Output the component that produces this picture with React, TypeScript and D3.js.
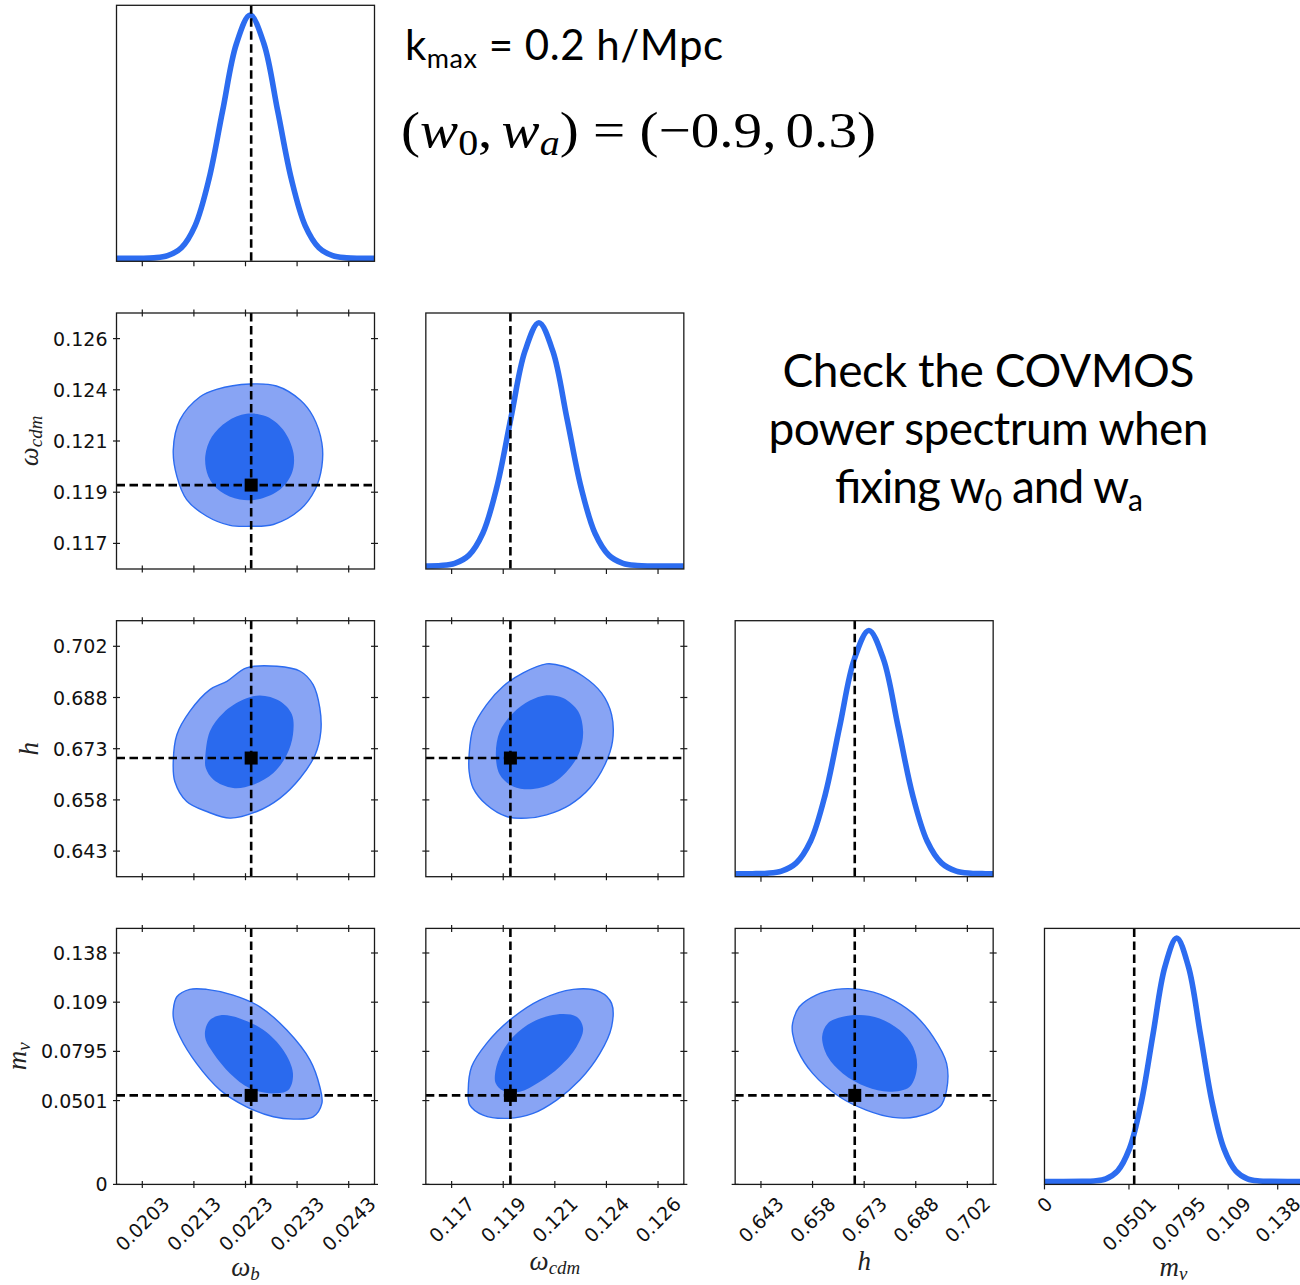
import React from 'react';
import * as d3 from 'd3';

// ---------------- data ----------------
const paramNames = ['ω_b', 'ω_cdm', 'h', 'm_ν'];
const paramSymbol = ['ω', 'ω', 'h', 'm'];
const paramSub = ['b', 'cdm', '', 'ν'];
const paramDomains: [number, number][] = [
  [0.0198, 0.0248],
  [0.11565, 0.12715],
  [0.6357, 0.7097],
  [0, 0.153],
];
const tickValues: number[][] = [
  [0.0203, 0.0213, 0.0223, 0.0233, 0.0243],
  [0.1168, 0.1191, 0.1214, 0.1237, 0.126],
  [0.6431, 0.6579, 0.6727, 0.6875, 0.7023],
  [0, 0.0501, 0.0795, 0.1089, 0.1383],
];
const tickLabels: string[][] = [
  ['0.0203', '0.0213', '0.0223', '0.0233', '0.0243'],
  ['0.117', '0.119', '0.121', '0.124', '0.126'],
  ['0.643', '0.658', '0.673', '0.688', '0.702'],
  ['0', '0.0501', '0.0795', '0.109', '0.138'],
];
const fiducial = [0.02241, 0.11942, 0.67, 0.0532];

// 1D marginal posteriors [value, normalised density]
const post_wb: [number, number][] = [
  [0.0198, 0], [0.020258, 0.0003], [0.020525, 0.0022], [0.020791, 0.011], [0.021058, 0.044],
  [0.021324, 0.135], [0.021591, 0.325], [0.021857, 0.607], [0.022124, 0.882], [0.02239, 1.0],
  [0.022657, 0.882], [0.022923, 0.607], [0.02319, 0.325], [0.023456, 0.135], [0.023723, 0.044],
  [0.023989, 0.011], [0.024256, 0.0022], [0.024522, 0.0003], [0.0248, 0],
];
const post_wcdm: [number, number][] = [
  [0.11565, 0.0002], [0.11569, 0.0003], [0.116315, 0.0022], [0.11694, 0.011], [0.117565, 0.044],
  [0.11819, 0.135], [0.118815, 0.325], [0.11944, 0.607], [0.120065, 0.882], [0.12069, 1.0],
  [0.121315, 0.882], [0.12194, 0.607], [0.122565, 0.325], [0.12319, 0.135], [0.123815, 0.044],
  [0.12444, 0.011], [0.125065, 0.0022], [0.12569, 0.0003], [0.12715, 0],
];
const post_h: [number, number][] = [
  [0.6357, 0], [0.64065, 0.0003], [0.644825, 0.0022], [0.649, 0.011], [0.653175, 0.044],
  [0.65735, 0.135], [0.661525, 0.325], [0.6657, 0.607], [0.669875, 0.882], [0.67405, 1.0],
  [0.678225, 0.882], [0.6824, 0.607], [0.686575, 0.325], [0.69075, 0.135], [0.694925, 0.044],
  [0.6991, 0.011], [0.703275, 0.0022], [0.70745, 0.0003], [0.7097, 0],
];
const post_mnu: [number, number][] = [
  [0, 0], [0.0224, 0.0003], [0.0294, 0.0022], [0.0364, 0.011], [0.0434, 0.044],
  [0.0504, 0.135], [0.0574, 0.325], [0.0644, 0.607], [0.0714, 0.882], [0.0784, 1.0],
  [0.0854, 0.882], [0.0924, 0.607], [0.0994, 0.325], [0.1064, 0.135], [0.1134, 0.044],
  [0.1204, 0.011], [0.1274, 0.0022], [0.1344, 0.0003], [0.153, 0],
];
const posteriors = [post_wb, post_wcdm, post_h, post_mnu];

// 2D contours [x-param value, y-param value]
const wb_wcdm_95: [number, number][] = [
  [0.0209, 0.12101], [0.02103, 0.12235], [0.02142, 0.12339], [0.02174, 0.12372], [0.02239, 0.12396],
  [0.0229, 0.12387], [0.02336, 0.12324], [0.02361, 0.1225], [0.02378, 0.12131], [0.02378, 0.12026],
  [0.02365, 0.11922], [0.02336, 0.11832], [0.02284, 0.11765], [0.02239, 0.11757], [0.022, 0.11761],
  [0.02155, 0.11802], [0.02116, 0.11877], [0.02097, 0.11981],
];
const wb_wcdm_68: [number, number][] = [
  [0.02152, 0.12071], [0.02165, 0.1216], [0.02194, 0.12227], [0.02232, 0.12262], [0.02271, 0.1225],
  [0.02303, 0.1219], [0.02323, 0.12086], [0.0232, 0.11996], [0.02297, 0.11922], [0.02258, 0.1188],
  [0.02219, 0.11877], [0.02181, 0.11914], [0.02158, 0.11981],
];
const wb_h_95: [number, number][] = [
  [0.0209, 0.66902], [0.02097, 0.67675], [0.02122, 0.6835], [0.02161, 0.68979], [0.02194, 0.69219],
  [0.02232, 0.69607], [0.02291, 0.69653], [0.02336, 0.69509], [0.02361, 0.69123], [0.02374, 0.68449],
  [0.02376, 0.67771], [0.02365, 0.67096], [0.02336, 0.66422], [0.02297, 0.65842], [0.02252, 0.65454],
  [0.022, 0.65263], [0.02155, 0.65454], [0.02116, 0.65744], [0.02093, 0.66323],
];
const wb_h_68: [number, number][] = [
  [0.02152, 0.67001], [0.02161, 0.67771], [0.02187, 0.68304], [0.02226, 0.68689], [0.02258, 0.68805],
  [0.02297, 0.6864], [0.0232, 0.68255], [0.02322, 0.67675], [0.0231, 0.67096], [0.02284, 0.66566],
  [0.02245, 0.66227], [0.02206, 0.66132], [0.02168, 0.66372], [0.02153, 0.66711],
];
const wcdm_h_95: [number, number][] = [
  [0.11758, 0.67096], [0.11776, 0.6787], [0.11836, 0.68544], [0.1191, 0.69074], [0.11999, 0.69462],
  [0.12103, 0.69723], [0.12177, 0.69653], [0.12266, 0.69364], [0.12348, 0.68883], [0.12393, 0.68255],
  [0.12397, 0.67481], [0.12363, 0.66807], [0.12296, 0.66132], [0.12207, 0.65648], [0.12103, 0.65359],
  [0.12014, 0.65263], [0.11925, 0.65309], [0.11836, 0.65648], [0.11776, 0.66132], [0.11758, 0.66613],
];
const wcdm_h_68: [number, number][] = [
  [0.11877, 0.67096], [0.11895, 0.67771], [0.11954, 0.68304], [0.12029, 0.6866], [0.12103, 0.68814],
  [0.12177, 0.68738], [0.12244, 0.6835], [0.12266, 0.67771], [0.12251, 0.67192], [0.12207, 0.66711],
  [0.12132, 0.66277], [0.12043, 0.66103], [0.11954, 0.66178], [0.11895, 0.66517],
];
const wb_mnu_95: [number, number][] = [
  [0.0209, 0.10418], [0.02097, 0.11213], [0.02122, 0.11655], [0.02155, 0.11655], [0.02206, 0.11314],
  [0.02258, 0.10615], [0.0231, 0.09222], [0.02355, 0.07429], [0.02374, 0.05834], [0.02378, 0.04841],
  [0.02361, 0.0404], [0.02323, 0.03903], [0.02284, 0.0404], [0.02232, 0.04638], [0.02181, 0.05636],
  [0.02135, 0.07232], [0.02103, 0.08822], [0.02091, 0.0982],
];
const wb_mnu_68: [number, number][] = [
  [0.02152, 0.09222], [0.02161, 0.0982], [0.02184, 0.10119], [0.02219, 0.09922], [0.02265, 0.09222],
  [0.02303, 0.08027], [0.02322, 0.06634], [0.02313, 0.05636], [0.02284, 0.05439], [0.02239, 0.05738],
  [0.022, 0.06634], [0.02168, 0.0783], [0.02153, 0.08625],
];
const wcdm_mnu_95: [number, number][] = [
  [0.11754, 0.05636], [0.11769, 0.07029], [0.11836, 0.08428], [0.11939, 0.0982], [0.12073, 0.11016],
  [0.12222, 0.11655], [0.12341, 0.11512], [0.12393, 0.10818], [0.12393, 0.0942], [0.12341, 0.0783],
  [0.12251, 0.06234], [0.12148, 0.05039], [0.12043, 0.04244], [0.11925, 0.03945], [0.1182, 0.04142],
  [0.11761, 0.0474],
];
const wcdm_mnu_68: [number, number][] = [
  [0.11873, 0.06533], [0.11895, 0.07627], [0.11954, 0.08822], [0.12043, 0.09719], [0.12148, 0.10161],
  [0.12237, 0.10017], [0.12266, 0.09324], [0.12237, 0.08224], [0.12162, 0.07029], [0.12073, 0.06132],
  [0.11984, 0.05535], [0.1191, 0.05594], [0.11877, 0.06037],
];
const h_mnu_95: [number, number][] = [
  [0.65217, 0.09623], [0.6541, 0.10615], [0.65891, 0.11314], [0.66467, 0.11655], [0.67138, 0.11655],
  [0.67906, 0.11213], [0.68672, 0.10221], [0.69248, 0.08822], [0.69634, 0.07232], [0.69634, 0.05636],
  [0.69441, 0.04638], [0.6877, 0.0404], [0.68096, 0.04005], [0.67331, 0.04441], [0.66562, 0.05236],
  [0.65793, 0.06634], [0.65361, 0.08027], [0.65217, 0.09025],
];
const h_mnu_68: [number, number][] = [
  [0.66064, 0.08822], [0.66225, 0.09623], [0.66657, 0.10017], [0.67138, 0.10119], [0.67713, 0.09922],
  [0.68289, 0.09222], [0.68672, 0.08224], [0.68787, 0.07029], [0.68577, 0.05834], [0.68001, 0.05535],
  [0.67331, 0.05834], [0.66657, 0.06634], [0.66225, 0.07627],
];
const contours: Record<string, { c95: [number, number][]; c68: [number, number][] }> = {
  '1-0': { c95: wb_wcdm_95, c68: wb_wcdm_68 },
  '2-0': { c95: wb_h_95, c68: wb_h_68 },
  '2-1': { c95: wcdm_h_95, c68: wcdm_h_68 },
  '3-0': { c95: wb_mnu_95, c68: wb_mnu_68 },
  '3-1': { c95: wcdm_mnu_95, c68: wcdm_mnu_68 },
  '3-2': { c95: h_mnu_95, c68: h_mnu_68 },
};

// ---------------- style ----------------
const BLUE = '#2c6cf0';
const DARK = '#2a6aee';
const LIGHT = '#88a4f4';
const AX = '#1a1a1a';
const TICK_FONT = 'DejaVu Sans, sans-serif';
const MATH_FONT = 'Liberation Serif, serif';
const TEXT_FONT = 'Lato, Open Sans, sans-serif';

const PW = 258;
const PH = 256;
const colX = (j: number) => 116.5 + j * 309.33;
const rowY = (i: number) => 5.3 + i * 307.7;
const tickLabelWidth = (s: string) => [...s].reduce((a, c) => a + (c === '.' ? 6.04 : 12.08), 0);
const CAP = 13.85;

function MathLabel({ sym, sub, size }: { sym: string; sub: string; size: number }) {
  return (
    <>
      <tspan fontStyle="italic">{sym}</tspan>
      {sub ? (
        <tspan fontStyle="italic" fontSize={size * 0.7} dy={size * 0.16}>
          {sub}
        </tspan>
      ) : null}
    </>
  );
}

export default function App() {
  const n = 4;
  const panels: JSX.Element[] = [];

  for (let i = 0; i < n; i++) {
    for (let j = 0; j <= i; j++) {
      const x0 = colX(j);
      const y0 = rowY(i);
      const xs = d3.scaleLinear().domain(paramDomains[j]).range([x0, x0 + PW]);
      const key = `${i}-${j}`;
      const clipId = `clip-${key}`;
      const items: JSX.Element[] = [];

      if (i === j) {
        const ys = d3.scaleLinear().domain([-0.012, 1.04]).range([y0 + PH, y0]);
        const line = d3
          .line<[number, number]>()
          .x((d) => xs(d[0]))
          .y((d) => ys(d[1]))
          .curve(d3.curveCatmullRom.alpha(0.5));
        items.push(
          <g key="c" clipPath={`url(#${clipId})`}>
            <path d={line(posteriors[j]) || ''} fill="none" stroke={BLUE} strokeWidth={5.6} strokeLinejoin="round" />
            <line x1={xs(fiducial[j])} x2={xs(fiducial[j])} y1={y0} y2={y0 + PH} stroke="#000" strokeWidth={2.6} strokeDasharray="8.5,4.5" />
          </g>
        );
        items.push(<rect key="b" x={x0} y={y0} width={PW} height={PH} fill="none" stroke={AX} strokeWidth={1.3} />);
        tickValues[j].forEach((t, k) => {
          const tx = xs(t);
          items.push(<line key={`tb${k}`} x1={tx} x2={tx} y1={y0 + PH} y2={y0 + PH + 5} stroke={AX} strokeWidth={1.2} />);
        });
      } else {
        const ys = d3.scaleLinear().domain(paramDomains[i]).range([y0 + PH, y0]);
        const closed = d3
          .line<[number, number]>()
          .x((d) => xs(d[0]))
          .y((d) => ys(d[1]))
          .curve(d3.curveCatmullRomClosed.alpha(0.5));
        const c = contours[key];
        const fx = xs(fiducial[j]);
        const fy = ys(fiducial[i]);
        items.push(
          <g key="c" clipPath={`url(#${clipId})`}>
            <path d={closed(c.c95) || ''} fill={LIGHT} stroke={BLUE} strokeWidth={1.4} />
            <path d={closed(c.c68) || ''} fill={DARK} stroke="none" />
            <line x1={fx} x2={fx} y1={y0} y2={y0 + PH} stroke="#000" strokeWidth={2.6} strokeDasharray="8.5,4.5" />
            <line x1={x0} x2={x0 + PW} y1={fy} y2={fy} stroke="#000" strokeWidth={2.6} strokeDasharray="8.5,4.5" />
            <rect x={fx - 6.5} y={fy - 6.5} width={13} height={13} fill="#000" />
          </g>
        );
        items.push(<rect key="b" x={x0} y={y0} width={PW} height={PH} fill="none" stroke={AX} strokeWidth={1.3} />);
        tickValues[j].forEach((t, k) => {
          const tx = xs(t);
          items.push(<line key={`tb${k}`} x1={tx} x2={tx} y1={y0 + PH - 3.5} y2={y0 + PH + 3.5} stroke={AX} strokeWidth={1.2} />);
          items.push(<line key={`tt${k}`} x1={tx} x2={tx} y1={y0 - 3.5} y2={y0 + 3.5} stroke={AX} strokeWidth={1.2} />);
        });
        tickValues[i].forEach((t, k) => {
          const ty = ys(t);
          items.push(<line key={`tl${k}`} x1={x0 - 3.5} x2={x0 + 3.5} y1={ty} y2={ty} stroke={AX} strokeWidth={1.2} />);
          items.push(<line key={`tr${k}`} x1={x0 + PW - 3.5} x2={x0 + PW + 3.5} y1={ty} y2={ty} stroke={AX} strokeWidth={1.2} />);
        });
        if (j === 0) {
          const maxW = Math.max(...tickLabels[i].map(tickLabelWidth));
          tickValues[i].forEach((t, k) => {
            items.push(
              <text key={`yl${k}`} x={x0 - 9} y={ys(t)} textAnchor="end" dominantBaseline="central" fontFamily={TICK_FONT} fontSize={19} fill="#111">
                {tickLabels[i][k]}
              </text>
            );
          });
          const bx = x0 - 9 - maxW - 15;
          items.push(
            <text key="ylab" transform={`translate(${bx},${y0 + PH / 2}) rotate(-90)`} textAnchor="middle" fontFamily={MATH_FONT} fontSize={27} fill="#222">
              <MathLabel sym={paramSymbol[i]} sub={paramSub[i]} size={27} />
            </text>
          );
        }
      }

      if (i === n - 1) {
        const axisY = y0 + PH;
        const maxBox = Math.max(...tickLabels[j].map((s) => (tickLabelWidth(s) + CAP) / Math.SQRT2));
        tickValues[j].forEach((t, k) => {
          const s = tickLabels[j][k];
          const dy = 11 + (tickLabelWidth(s) + CAP) / (2 * Math.SQRT2);
          items.push(
            <text key={`xl${k}`} transform={`translate(${xs(t)},${axisY + dy}) rotate(-45)`} textAnchor="middle" dominantBaseline="central" fontFamily={TICK_FONT} fontSize={19} fill="#111">
              {s}
            </text>
          );
        });
        items.push(
          <text key="xlab" x={x0 + PW / 2} y={Math.min(axisY + 11 + maxBox + 26, 1276)} textAnchor="middle" fontFamily={MATH_FONT} fontSize={27} fill="#222">
            <MathLabel sym={paramSymbol[j]} sub={paramSub[j]} size={27} />
          </text>
        );
      }

      panels.push(
        <g key={key}>
          <defs>
            <clipPath id={clipId}>
              <rect x={x0} y={y0} width={PW} height={PH} />
            </clipPath>
          </defs>
          {items}
        </g>
      );
    }
  }

  return (
    <svg
      width={1300}
      height={1285}
      viewBox="0 0 1300 1285"
      style={{ position: 'absolute', left: 0, top: 0, background: '#fff' }}
      xmlns="http://www.w3.org/2000/svg"
    >
      <rect x={0} y={0} width={1300} height={1285} fill="#fff" />
      <title>{paramNames.join(', ')}</title>
      {panels}
      <text x={405} y={60} fontFamily={TEXT_FONT} fontSize={42} fill="#000" textLength={318} lengthAdjust="spacing">
        k<tspan fontSize={27} dy={8}>max</tspan>
        <tspan dy={-8}> = 0.2 h/Mpc</tspan>
      </text>
      <text x={401} y={147} fontFamily={MATH_FONT} fontSize={50} fill="#000" textLength={475} lengthAdjust="spacingAndGlyphs">
        (<tspan fontStyle="italic">w</tspan>
        <tspan fontSize={35} dy={8}>0</tspan>
        <tspan dy={-8}>,</tspan>
        <tspan fontStyle="italic" dx={8}>w</tspan>
        <tspan fontSize={35} fontStyle="italic" dy={8}>a</tspan>
        <tspan dy={-8}>) = (−0.9,</tspan>
        <tspan dx={8}>0.3)</tspan>
      </text>
      <g fontFamily={TEXT_FONT} fontSize={46} fill="#000" textAnchor="middle">
        <text x={988.5} y={387} textLength={412} lengthAdjust="spacing">Check the COVMOS</text>
        <text x={988.5} y={445} textLength={440} lengthAdjust="spacing">power spectrum when</text>
        <text x={988.5} y={503} textLength={308} lengthAdjust="spacing">
          fixing w<tspan fontSize={30} dy={8}>0</tspan>
          <tspan dy={-8}> and w</tspan>
          <tspan fontSize={30} dy={8}>a</tspan>
        </text>
      </g>
    </svg>
  );
}
